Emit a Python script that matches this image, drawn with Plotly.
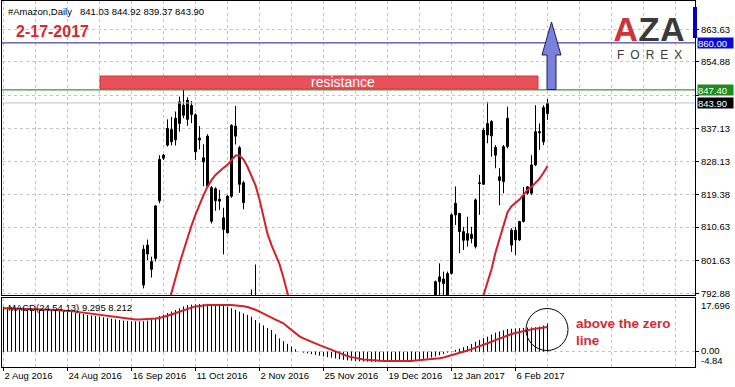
import plotly.graph_objects as go

# ---------------- data ----------------
x_tick_bars = [0, 16, 32, 48, 64, 80, 96, 112, 128]
x_tick_labels = ["2 Aug 2016", "24 Aug 2016", "16 Sep 2016", "11 Oct 2016", "2 Nov 2016",
                 "25 Nov 2016", "19 Dec 2016", "12 Jan 2017", "6 Feb 2017"]
x_grid_minor = [8, 24, 40, 56, 72, 88, 104, 120, 136, 152, 168]
x_grid_major = [0, 16, 32, 48, 64, 80, 96, 112, 128, 144, 160]

price_ticks = [792.88, 801.63, 810.63, 819.38, 828.13, 837.13, 845.88, 854.88, 863.63]
price_tick_text = ["792.88", "801.63", "810.63", "819.38", "828.13", "837.13", "", "854.88", "863.63"]

opens = [760.0, 764.0, 767.5, 765.0, 768.0, 770.5, 766.5, 768.5, 767.0, 764.0,
         761.0, 764.5, 766.0, 762.0, 760.5, 758.0, 760.0, 763.0, 766.5, 768.0,
         770.5, 769.0, 772.0, 784.5, 785.5, 782.0, 767.0, 771.5, 762.0, 769.5,
         779.0, 776.5, 775.0, 780.5, 788.5, 795.1, 803.4, 801.4, 802.2, 817.7,
         829.9, 832.6, 833.5, 839.8, 838.4, 843.3, 844.6, 843.2, 840.7, 834.0,
         828.1, 835.0, 821.2, 820.9, 818.1, 813.1, 809.1, 818.9, 837.7, 831.9,
         822.5, 790.0, 788.0, 780.0, 776.0, 772.0, 765.5, 762.0, 766.0, 769.5,
         770.5, 744.0, 739.5, 719.0, 742.0, 754.0, 749.5, 760.5, 769.5, 785.5,
         778.0, 780.0, 766.5, 762.0, 750.5, 743.0, 740.0, 757.5, 751.0, 762.5,
         770.5, 766.5, 760.0, 765.0, 768.5, 761.5, 757.0, 766.0, 770.0, 766.5,
         768.0, 770.0, 766.0, 760.5, 750.0, 754.0, 757.5, 778.5, 788.0, 796.0,
         796.7, 792.4, 798.2, 813.9, 814.3, 809.4, 807.1, 808.7, 805.4, 822.5,
         822.1, 835.3, 838.9, 832.0, 824.1, 822.8, 832.2, 805.8, 809.8, 807.2,
         812.1, 819.7, 819.7, 827.3, 836.2, 833.5, 841.03]
highs = [766.0, 768.5, 770.5, 769.0, 772.0, 771.5, 770.0, 771.0, 769.5, 767.0,
         766.0, 768.5, 767.5, 765.0, 763.5, 762.0, 764.5, 768.0, 770.0, 772.5,
         774.0, 773.0, 786.0, 788.0, 789.5, 784.0, 773.5, 775.0, 771.0, 780.5,
         781.5, 779.0, 782.0, 790.0, 790.5, 805.8, 807.3, 802.7, 816.5, 829.9,
         830.2, 839.5, 840.2, 841.6, 845.6, 847.4, 845.4, 844.4, 841.1, 837.7,
         832.8, 835.5, 821.6, 821.3, 820.6, 815.8, 819.2, 838.2, 843.1, 832.4,
         823.0, 791.5, 793.9, 800.6, 780.0, 775.5, 770.0, 768.5, 772.0, 775.5,
         773.0, 748.0, 742.0, 745.0, 756.0, 758.0, 762.5, 771.0, 787.0, 790.0,
         782.0, 783.0, 770.0, 766.0, 754.0, 747.0, 760.0, 762.0, 764.0, 772.5,
         772.0, 770.0, 768.0, 771.0, 771.5, 764.0, 768.0, 772.0, 773.0, 770.0,
         771.5, 774.0, 769.0, 763.0, 758.0, 760.0, 781.0, 790.0, 796.3, 800.9,
         798.7, 798.7, 814.3, 821.5, 814.3, 810.7, 813.4, 810.7, 818.3, 824.6,
         837.1, 844.2, 839.3, 832.6, 826.4, 832.6, 842.9, 810.3, 810.7, 812.3,
         821.4, 821.6, 829.9, 843.3, 838.4, 843.3, 844.92]
lows = [757.0, 760.5, 763.0, 761.0, 765.5, 764.0, 763.0, 765.0, 762.5, 759.5,
        758.5, 762.0, 760.0, 758.0, 756.0, 755.0, 757.5, 761.0, 763.5, 766.0,
        767.0, 766.0, 771.0, 780.0, 781.0, 765.0, 764.0, 759.0, 760.5, 768.0,
        773.0, 770.5, 773.0, 779.0, 783.0, 794.2, 801.8, 797.1, 801.4, 817.0,
        828.6, 832.2, 832.5, 832.5, 836.2, 839.8, 837.8, 838.5, 828.6, 831.5,
        821.6, 821.2, 811.6, 815.0, 815.2, 803.3, 808.9, 818.5, 832.8, 819.8,
        815.4, 780.0, 782.0, 772.0, 768.0, 762.0, 758.0, 755.5, 760.0, 764.5,
        736.0, 728.0, 710.0, 716.0, 740.0, 746.0, 748.0, 758.0, 767.0, 775.0,
        774.0, 763.0, 760.0, 748.0, 738.0, 733.0, 738.0, 748.0, 749.0, 758.0,
        762.0, 758.0, 756.0, 762.0, 758.0, 753.0, 755.0, 762.0, 764.0, 763.0,
        764.5, 765.0, 757.0, 748.0, 746.0, 752.0, 756.0, 777.0, 784.0, 790.0,
        790.0, 789.0, 797.9, 811.2, 803.6, 804.5, 805.4, 806.3, 804.9, 813.9,
        821.9, 833.1, 829.5, 826.4, 816.5, 819.7, 831.7, 804.0, 803.1, 806.9,
        811.9, 819.3, 819.3, 827.0, 831.3, 832.6, 839.37]
closes = [764.0, 767.5, 765.0, 768.0, 770.5, 766.5, 768.5, 767.0, 764.0, 761.0,
          764.5, 766.0, 762.0, 760.5, 758.0, 760.0, 763.0, 766.5, 768.0, 770.5,
          769.0, 772.0, 784.5, 785.5, 782.0, 767.0, 771.5, 762.0, 769.5, 779.0,
          776.5, 775.0, 780.5, 788.5, 786.0, 804.7, 805.8, 799.3, 816.3, 828.8,
          829.1, 837.1, 836.8, 834.0, 844.2, 840.6, 839.5, 840.8, 830.8, 834.5,
          829.2, 821.6, 812.2, 817.7, 817.6, 810.0, 818.9, 837.9, 835.0, 822.1,
          817.2, 785.0, 786.0, 776.0, 772.0, 765.5, 762.0, 766.0, 769.5, 770.5,
          744.0, 739.5, 719.0, 742.0, 754.0, 749.5, 760.5, 769.5, 785.5, 778.0,
          780.0, 766.5, 762.0, 750.5, 743.0, 740.0, 757.5, 751.0, 762.5, 770.5,
          766.5, 760.0, 765.0, 768.5, 761.5, 757.0, 766.0, 770.0, 766.5, 768.0,
          770.0, 766.0, 760.5, 750.0, 754.0, 757.5, 778.5, 788.0, 796.0, 797.3,
          795.5, 798.2, 813.9, 817.0, 809.4, 807.1, 808.9, 807.6, 817.9, 822.3,
          836.6, 838.4, 835.1, 829.9, 823.1, 832.2, 839.8, 809.8, 807.2, 812.1,
          819.2, 821.4, 827.3, 836.2, 835.9, 842.7, 843.90]

red_line = [758.5, 759.0, 759.5, 760.0, 760.5, 761.0, 761.3, 761.5, 761.6, 761.6,
            761.5, 761.4, 761.3, 761.2, 761.0, 760.8, 760.6, 760.5, 760.5, 760.6,
            760.8, 761.0, 761.5, 762.0, 762.5, 763.0, 763.3, 763.5, 763.6, 763.6,
            763.5, 764.0, 764.8, 765.8, 767.0, 768.5, 770.8, 773.8, 777.3, 781.2,
            785.3, 789.3, 793.2, 797.0, 800.8, 804.3, 807.8, 811.0, 814.0, 816.8,
            819.2, 821.4, 823.2, 824.6, 825.6, 826.5, 827.3, 828.7, 829.8, 829.8,
            828.8, 826.8, 824.3, 821.8, 818.0, 813.0, 808.8, 805.8, 803.2, 800.7,
            797.0, 792.5, 788.0, 783.5, 779.0, 775.0, 771.5, 768.5, 766.0, 764.0,
            762.5, 761.5, 760.8, 760.2, 759.8, 759.5, 759.3, 759.2, 759.2, 759.3,
            759.5, 759.7, 760.0, 760.2, 760.4, 760.5, 760.6, 760.7, 760.8, 760.9,
            761.0, 761.0, 761.0, 760.9, 760.8, 760.7, 760.7, 760.8, 761.0, 762.0,
            763.0, 764.5, 766.5, 769.0, 772.0, 775.0, 778.5, 782.0, 785.5, 789.2,
            792.9, 796.2, 799.3, 803.8, 807.5, 811.4, 814.6, 816.2, 817.0, 818.0,
            819.3, 820.6, 821.4, 822.4, 823.6, 825.2, 827.0]

macd_main = [14.9, 14.8, 14.7, 14.6, 14.5, 14.4, 14.35, 14.3, 14.2, 14.1,
             14.0, 13.95, 13.85, 13.7, 13.6, 13.45, 13.3, 13.1, 12.9, 12.7,
             12.45, 12.2, 12.0, 11.8, 11.6, 11.4, 11.2, 10.95, 10.7, 10.5,
             10.35, 10.2, 10.1, 10.0, 10.0, 10.1, 10.3, 10.7, 11.2, 11.8,
             12.3, 12.8, 13.3, 13.8, 14.4, 15.0, 15.5, 15.6, 15.7, 15.8,
             15.85, 15.85, 15.8, 15.8, 15.6, 15.3, 14.9, 14.4, 13.9, 13.3,
             12.7, 12.2, 11.6, 10.5, 9.4, 8.7, 7.9, 7.2, 5.8, 4.4,
             3.5, 2.6, 1.7, 0.8, 0.0, -0.3, -0.55, -0.8, -1.05, -1.3,
             -1.55, -1.8, -2.0, -2.25, -2.5, -2.7, -2.85, -3.0, -3.1, -3.2,
             -3.25, -3.3, -3.35, -3.35, -3.4, -3.4, -3.4, -3.4, -3.35, -3.3,
             -3.2, -3.1, -2.95, -2.8, -2.6, -2.4, -2.2, -1.9, -1.55, -1.2,
             -0.75, -0.3, 0.15, 0.6, 1.05, 1.5, 1.9, 2.6, 3.3, 3.9,
             4.5, 5.0, 5.7, 6.3, 6.7, 7.1, 7.5, 7.6, 7.7, 7.8,
             7.9, 8.0, 8.05, 8.1, 8.3, 8.7, 9.295]
macd_signal = [14.4, 14.38, 14.36, 14.34, 14.32, 14.3, 14.27, 14.23, 14.18, 14.12,
               14.06, 14.0, 13.93, 13.85, 13.77, 13.69, 13.6, 13.45, 13.3, 13.12,
               12.94, 12.75, 12.56, 12.38, 12.2, 12.02, 11.83, 11.63, 11.43, 11.23,
               11.05, 10.9, 10.78, 10.7, 10.68, 10.7, 10.76, 10.86, 11.0, 11.2,
               11.5, 11.9, 12.35, 12.85, 13.35, 13.8, 14.2, 14.6, 14.95, 15.2,
               15.35, 15.45, 15.5, 15.52, 15.52, 15.5, 15.48, 15.45, 15.4, 15.3,
               15.1, 14.8, 14.4, 13.9, 13.3, 12.7, 12.0, 11.3, 10.6, 10.0,
               9.4, 8.3, 7.2, 6.1, 5.1, 4.4, 3.8, 3.2, 2.7, 2.2,
               1.7, 1.15, 0.6, 0.05, -0.5, -1.05, -1.45, -1.8, -2.1, -2.35,
               -2.55, -2.7, -2.85, -2.95, -3.05, -3.1, -3.12, -3.14, -3.15, -3.15,
               -3.13, -3.1, -3.05, -2.95, -2.85, -2.7, -2.6, -2.45, -2.3, -2.2,
               -1.9, -1.55, -1.2, -0.85, -0.5, -0.05, 0.4, 0.85, 1.3, 1.75,
               2.2, 2.75, 3.3, 3.85, 4.4, 4.95, 5.5, 5.85, 6.2, 6.55,
               6.9, 7.2, 7.4, 7.6, 7.8, 8.0, 8.212]

macd_levels = [17.696, 0.00, -4.84]
levels = {"blue": 860.00, "green": 847.40, "bid": 843.90}

# ---------------- geometry helpers (pixel -> paper) ----------------
W, H = 735, 387
ML, MR, MT, MB = 2, 40, 1, 20
PW, PH = W - ML - MR, H - MT - MB


def pxx(px):
    return (px - ML) / PW


def pxy(py):
    return (H - MB - py) / PH


def px_to_bar(px):
    return (px - 3.5) / 4.0


def py_to_price(py):
    return 792.88 + (293.3 - py) / 3.731


FONT = "Liberation Sans, Arial, sans-serif"
bars = list(range(len(opens)))

fig = go.Figure()

# wicks
wx, wy = [], []
for i, h, l in zip(bars, highs, lows):
    wx += [i, i, None]
    wy += [l, h, None]
fig.add_trace(go.Scatter(x=wx, y=wy, mode="lines", line=dict(color="black", width=1),
                         hoverinfo="skip", xaxis="x", yaxis="y"))
# bodies
fig.add_trace(go.Bar(
    x=bars,
    base=[min(o, c) for o, c in zip(opens, closes)],
    y=[max(abs(c - o), 0.05) for o, c in zip(opens, closes)],
    width=0.5,
    marker=dict(color=["white" if c >= o else "black" for o, c in zip(opens, closes)],
                line=dict(color="black", width=1)),
    hoverinfo="skip", xaxis="x", yaxis="y"))
# red line on price
fig.add_trace(go.Scatter(x=bars, y=red_line, mode="lines",
                         line=dict(color="#d62027", width=2), hoverinfo="skip",
                         xaxis="x", yaxis="y"))
# MACD histogram
hx, hy = [], []
for i, v in zip(bars, macd_main):
    hx += [i, i, None]
    hy += [0, v, None]
fig.add_trace(go.Scatter(x=hx, y=hy, mode="lines", line=dict(color="black", width=1),
                         hoverinfo="skip", xaxis="x2", yaxis="y2"))
fig.add_trace(go.Scatter(x=bars, y=macd_signal, mode="lines",
                         line=dict(color="#d62027", width=2), hoverinfo="skip",
                         xaxis="x2", yaxis="y2"))

xrange = [px_to_bar(ML), px_to_bar(W - MR)]
grid = dict(showgrid=True, gridcolor="#c4c4c4", griddash="3px,3px", gridwidth=1)

main_dom = [pxy(295), 1]
macd_dom = [0, pxy(298)]

fig.update_layout(
    width=W, height=H,
    margin=dict(l=ML, r=MR, t=MT, b=MB),
    paper_bgcolor="white", plot_bgcolor="white",
    showlegend=False,
    font=dict(family=FONT, size=10, color="black"),
    xaxis=dict(domain=[0, 1], range=xrange, anchor="y", showticklabels=False,
               tickmode="array", tickvals=x_grid_major, ticks="", zeroline=False,
               minor=dict(tickmode="array", tickvals=x_grid_minor, **grid),
               showline=True, mirror=True, linecolor="black", linewidth=1, **grid),
    xaxis2=dict(domain=[0, 1], range=xrange, anchor="y2", matches="x",
                tickmode="array", tickvals=x_tick_bars, ticktext=x_tick_labels,
                ticks="outside", ticklen=3, tickcolor="black",
                ticklabelposition="outside right",
                tickfont=dict(size=9.5, family=FONT), zeroline=False,
                minor=dict(tickmode="array", tickvals=x_grid_minor, **grid),
                showline=True, mirror=True, linecolor="black", linewidth=1, **grid),
    yaxis=dict(domain=main_dom, range=[py_to_price(295), py_to_price(1)], anchor="x",
               side="right", tickmode="array", tickvals=price_ticks, ticktext=price_tick_text,
               ticks="outside", ticklen=3, tickcolor="black",
               tickfont=dict(size=9.5, family=FONT), zeroline=False,
               showline=True, mirror=True, linecolor="black", linewidth=1, **grid),
    yaxis2=dict(domain=macd_dom, range=[-5.07, 17.80], anchor="x2", side="right",
                tickmode="array", tickvals=[0], ticktext=[""],
                ticks="outside", ticklen=3, tickcolor="black", zeroline=False,
                showline=True, mirror=True, linecolor="black", linewidth=1, **grid),
)

shapes = []
# horizontal level lines
shapes.append(dict(type="line", xref="paper", yref="y", x0=0, x1=1,
                   y0=levels["blue"], y1=levels["blue"], line=dict(color="#1a1a86", width=1)))
shapes.append(dict(type="line", xref="paper", yref="y", x0=0, x1=1,
                   y0=levels["green"], y1=levels["green"], line=dict(color="#0a7d0a", width=1)))
shapes.append(dict(type="line", xref="paper", yref="y", x0=0, x1=1,
                   y0=levels["bid"], y1=levels["bid"], line=dict(color="#c0c0c0", width=1)))
# resistance rectangle
shapes.append(dict(type="rect", xref="x", yref="y",
                   x0=px_to_bar(100), x1=px_to_bar(538),
                   y0=py_to_price(89), y1=py_to_price(76),
                   fillcolor="#e8505a", line=dict(color="#d03840", width=1), layer="above"))
# blue arrow
ax0, ax1 = px_to_bar(547), px_to_bar(556)
hx0, hx1, tipx = px_to_bar(542), px_to_bar(561), px_to_bar(551.5)
yb, yh, yt = py_to_price(89.5), py_to_price(55), py_to_price(22)
path = (f"M {ax0},{yb} L {ax0},{yh} L {hx0},{yh} L {tipx},{yt} L {hx1},{yh} "
        f"L {ax1},{yh} L {ax1},{yb} Z")
shapes.append(dict(type="path", xref="x", yref="y", path=path,
                   fillcolor="#7a80dc", line=dict(color="#1e2060", width=1), layer="above"))
# blue marker on right border
shapes.append(dict(type="rect", xref="paper", yref="paper",
                   x0=pxx(693), x1=pxx(697), y0=pxy(38), y1=pxy(7),
                   fillcolor="#0000cc", line=dict(width=0)))
# circle in MACD pane
shapes.append(dict(type="circle", xref="paper", yref="paper",
                   x0=pxx(526), x1=pxx(568), y0=pxy(350.5), y1=pxy(308.5),
                   line=dict(color="black", width=1)))
fig.update_layout(shapes=shapes)

ann = []


def text(px, py, s, size=9.5, color="black", bold=False, xanchor="left", **kw):
    ann.append(dict(xref="paper", yref="paper", x=pxx(px), y=pxy(py), text=(f"<b>{s}</b>" if bold else s),
                    showarrow=False, xanchor=xanchor, yanchor="middle",
                    font=dict(size=size, color=color, family=FONT), **kw))


text(5.5, 11, "#Amazon,Daily")
text(78, 11, f"{opens[-1]:.2f} {highs[-1]:.2f} {lows[-1]:.2f} {closes[-1]:.2f}")
text(13.5, 32, "2-17-2017", size=16, color="#d42a30", bold=True)
text(343, 82.5, "resistance", size=14, color="white", xanchor="center")
text(5.5, 307, f"MACD(24,54,13) {macd_main[-1]:.3f} {macd_signal[-1]:.3f}")
text(574, 323, "above the zero", size=13.5, color="#d42a36", bold=True)
text(574, 340, "line", size=13.5, color="#d42a36", bold=True)

# logo (one text box for the letters, one for the word below)
text(649, 28.5, "<span style='color:#c8363a'>A</span>ZA", size=35, color="#3a3a3c",
     bold=True, xanchor="center", height=24, valign="middle")
text(649, 55, "F\u2002O\u2002R\u2002E\u2002X", size=12, color="#3a3a3c",
     xanchor="center", height=10, valign="middle")

# MACD scale labels
text(699, 305, f"{macd_levels[0]:.3f}")
text(699, 350.5, f"{macd_levels[1]:.2f}")
text(699, 360, f"{macd_levels[2]:.2f}")

# highlighted price labels
for val, bg, py in [(levels["blue"], "#0a0ad8", 43), (levels["green"], "#1c8c1c", 90),
                    (levels["bid"], "black", 102.5)]:
    ann.append(dict(xref="paper", yref="paper", x=pxx(697), y=pxy(py), text=f"{val:.2f}",
                    showarrow=False, xanchor="left", yanchor="middle", bgcolor=bg,
                    borderpad=0, width=35, height=10, align="left",
                    font=dict(size=9.5, color="white", family=FONT)))

fig.update_layout(annotations=ann)
fig.write_html("out.html")
